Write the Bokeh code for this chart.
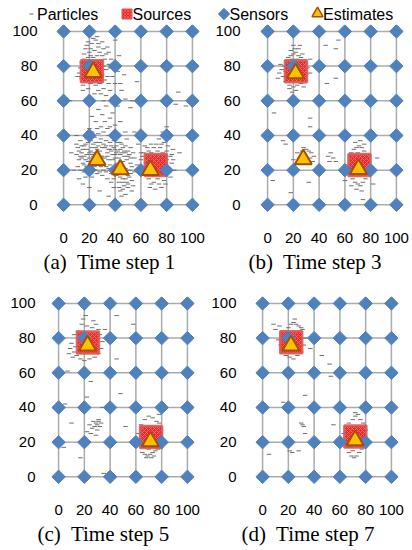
from bokeh.plotting import figure
from bokeh.layouts import column, row
from bokeh.models import Range1d, FixedTicker, Title
from bokeh.core.properties import value
from bokeh.embed import file_html
from bokeh.resources import INLINE
import math

grid_ticks = [0, 20, 40, 60, 80, 100]
captions = ["(a)\u00a0 Time step 1", "(b)\u00a0 Time step 3",
            "(c)\u00a0 Time step 5", "(d)\u00a0 Time step 7"]
legend_labels = ["Particles", "Sources", "Sensors", "Estimates"]

# Sources (true)
src_a = [(22, 77), (71.6, 23)]
src_b = [(22, 77), (71.3, 23)]
src_c = [(22.8, 77.5), (71.8, 22.9)]
src_d = [(22.2, 77.6), (72, 23.3)]

# Estimates
est_a = [(23, 76.5), (26, 25.8), (44, 20.4), (67.4, 20)]
est_b = [(21.7, 75.9), (27.7, 26.2), (70.5, 20.6)]
est_c = [(22.5, 75.7), (71.3, 20.4)]
est_d = [(22, 75.7), (71.8, 21)]

# Particles
part_a = [
    (18, 92), (22, 93), (25, 95), (27, 91), (24, 89), (20, 88), (28, 88), (30, 86), (26, 86), (23, 85),
    (19, 85), (16, 84), (29, 83), (32, 84), (14, 82), (31, 80), (33, 78), (30, 75), (32, 72), (28, 70),
    (25, 69), (21, 70), (17, 71), (14, 73), (12, 76), (13, 79), (27, 66), (31, 67), (35, 70), (38, 74),
    (36, 79), (40, 82), (43, 86), (35, 88), (45, 66), (48, 61), (38, 62), (33, 63), (24, 64), (15, 66),
    (26, 97), (30, 94), (21, 90), (17, 90), (34, 91), (37, 84), (42, 77), (29, 78), (20, 81), (23, 74),
    (19, 94), (23, 96), (27, 93), (31, 90), (33, 87), (16, 87), (21, 86), (25, 83), (35, 81), (34, 74),
    (11, 74), (15, 69), (19, 67), (29, 64), (36, 66), (40, 70),
    (27, 55), (30, 52), (33, 57), (36, 50), (25, 48), (40, 46), (38, 53), (29, 45), (34, 44), (44, 48),
    (22, 51), (31, 60), (42, 57), (48, 42), (20, 44),
    (14, 30), (16, 28), (18, 32), (20, 27), (22, 33), (24, 30), (28, 31), (30, 28), (32, 33), (34, 30),
    (12, 26), (15, 24), (18, 22), (21, 20), (24, 22), (29, 22), (31, 24), (35, 26), (17, 35), (21, 37),
    (25, 36), (29, 38), (33, 37), (37, 34), (11, 33), (13, 37), (19, 39), (27, 41), (35, 40), (38, 29),
    (40, 32), (42, 36), (10, 29), (26, 18), (22, 16), (30, 17), (16, 19), (23, 25), (27, 34), (19, 25),
    (15, 32), (13, 28), (17, 26), (20, 30), (23, 28), (26, 32), (31, 35), (36, 32), (33, 22), (28, 25),
    (12, 31), (14, 27), (16, 34), (18, 29), (19, 36), (21, 31), (22, 29), (23, 35), (25, 33), (26, 29),
    (28, 36), (29, 27), (30, 33), (32, 27), (33, 34), (34, 28), (35, 32), (36, 36), (37, 31), (38, 26),
    (39, 33), (40, 29), (41, 34), (42, 31), (43, 27), (44, 36), (45, 30), (46, 33), (47, 28), (48, 30),
    (49, 26), (50, 31), (51, 29), (52, 27), (53, 22), (51, 16), (49, 18), (47, 20), (46, 13), (44, 16),
    (42, 19), (40, 22), (39, 15), (37, 18), (35, 21), (43, 10), (45, 5), (50, 12), (52, 18), (54, 11),
    (48, 15), (11, 22), (13, 20), (16, 23), (19, 18), (22, 23), (25, 20), (28, 19), (31, 20), (17, 16),
    (14, 34), (10, 35), (24, 39), (31, 42), (38, 39), (22, 42), (26, 44), (18, 38), (36, 45), (32, 48),
    (40, 27), (44, 29), (47, 31), (50, 28), (52, 24), (48, 21), (50, 17), (46, 15), (43, 13), (47, 11),
    (50, 10), (53, 14), (55, 19), (41, 17), (38, 20), (36, 23), (45, 35), (49, 38), (52, 33), (39, 10),
    (44, 8), (48, 6), (53, 8), (42, 24), (46, 25), (55, 27), (57, 23), (34, 15), (37, 13), (33, 19),
    (44, 32), (48, 34), (51, 20), (45, 18), (49, 13), (41, 30), (39, 37), (43, 40), (54, 30), (46, 9),
    (8, 20), (12, 15), (20, 10), (28, 8), (35, 5), (15, 12), (10, 40), (6, 30), (58, 35), (55, 42), (60, 30),
    (62, 30), (65, 33), (68, 35), (72, 35), (75, 33), (78, 36), (80, 31), (83, 28), (84, 24), (82, 20),
    (83, 16), (78, 14), (74, 12), (70, 13), (66, 15), (63, 18), (62, 22), (65, 28), (68, 30), (77, 30),
    (80, 26), (76, 10), (71, 9), (67, 10), (79, 40), (74, 38), (85, 32), (86, 20), (60, 26), (64, 24),
    (66, 31), (70, 33), (73, 31), (76, 35), (81, 34), (84, 29), (85, 26), (80, 18), (79, 12), (73, 15),
    (68, 12), (64, 20), (61, 28), (63, 34), (82, 38), (77, 42),
    (40, 95), (44, 70), (47, 75), (87, 58), (52, 56), (80, 45), (90, 30), (5, 60), (95, 57), (60, 80),
    (57, 71), (89, 65), (53, 60),
]
part_b = [
    (16, 85), (18, 86), (20, 87), (22, 88), (24, 86), (26, 85), (19, 84), (23, 84), (27, 83), (15, 82),
    (13, 80), (11, 78), (9, 76), (12, 74), (8, 73), (14, 71), (17, 69), (20, 68), (23, 69), (26, 70),
    (28, 72), (30, 75), (31, 79), (29, 82), (21, 90), (25, 92), (17, 67), (22, 66), (10, 81), (33, 84),
    (18, 89), (24, 90), (27, 87), (20, 92), (14, 77), (28, 68), (19, 65),
    (53, 90), (55, 95), (46, 70), (53, 73), (33, 76), (38, 79), (5, 53), (33, 50), (33, 45), (12, 37),
    (14, 35), (4, 14), (18, 7), (32, 13), (20, 60), (45, 92),
    (28, 33), (30, 32), (32, 31), (34, 30), (29, 29), (33, 27), (35, 25), (31, 24), (27, 31), (25, 27),
    (23, 30), (36, 28), (20, 26),
    (47, 28), (49, 30), (51, 27), (53, 25), (48, 25),
    (67, 32), (69, 33), (71, 34), (73, 33), (75, 31), (65, 30), (77, 29), (64, 27), (78, 25), (63, 23),
    (79, 22), (64, 18), (66, 15), (68, 13), (70, 12), (72, 11), (74, 13), (76, 15), (78, 17), (65, 11),
    (69, 9), (73, 8), (80, 19), (62, 20), (70, 30), (85, 27), (74, 3), (60, 14), (82, 12),
    (68, 36), (72, 37), (75, 35),
]
part_c = [
    (21, 93), (45, 93), (58, 88), (18, 88), (22, 87), (26, 86), (29, 88), (31, 85), (15, 84), (12, 82),
    (10, 77), (9, 74), (12, 72), (14, 70), (11, 69), (17, 68), (20, 67), (24, 68), (28, 69), (31, 71),
    (33, 74), (34, 78), (32, 82), (27, 90), (19, 91), (36, 85), (8, 71), (13, 75),
    (48, 48), (22, 46), (5, 42), (10, 31), (52, 29), (4, 17), (17, 11), (35, 2), (45, 68), (7, 61),
    (34, 40), (25, 55),
    (27, 32), (29, 31), (30, 30), (31, 32), (32, 29), (28, 29), (30, 27), (26, 28), (33, 31), (25, 25),
    (22, 26), (29, 24), (31, 33), (24, 30),
    (65, 14), (67, 13), (69, 12), (71, 13), (73, 14), (75, 15), (77, 16), (66, 17), (70, 16), (68, 11),
    (72, 11), (74, 12), (67, 33), (70, 35), (73, 34), (76, 32), (78, 31), (64, 30), (79, 27), (62, 25),
    (80, 21), (78, 36), (63, 19),
]
part_d = [
    (8.5, 88), (13, 87), (22, 88), (24, 89), (26, 88), (28, 87), (30, 86), (31, 85), (20, 86), (18, 84),
    (15, 82), (12, 79), (14, 76), (16, 73), (18, 70), (21, 69), (24, 68), (27, 70), (30, 72), (32, 76),
    (33, 80), (10, 85), (25, 91),
    (37, 74), (46, 70), (52, 65), (53, 58), (33, 47), (16, 43), (31, 30), (30, 31), (32, 29), (33, 25),
    (55, 30), (5, 13), (21, 15), (23, 14), (28, 15), (40, 60),
    (70, 33), (72, 35), (74, 36), (76, 33), (78, 31), (67, 31), (65, 28), (63, 25), (80, 27), (64, 20),
    (67, 14), (69, 12), (71, 11), (73, 12), (75, 14), (77, 16), (70, 15), (68, 17), (72, 37), (79, 20),
]

SENSOR = dict(marker="square", angle=math.pi / 4, size=9.5, fill_color="#4F81BD", line_color="#4F81BD")
SOURCE = dict(marker="square", size=22, fill_color="#E82A2A", line_color="#D85A5A", line_width=2.5,
              line_alpha=0.9, hatch_pattern="diagonal_cross", hatch_color="#FF7070", hatch_scale=4,
              hatch_weight=0.8)
EST = dict(marker="triangle", size=17, fill_color="#FFC000", line_color="#A84E00", line_width=2)
PART = dict(marker="dash", size=4.5, line_color="#6E6E6E", line_width=1)


def panel(parts, srcs, ests, cap, left, right, bottom, cap_offset, ystand):
    p = figure(frame_width=143, frame_height=189, min_border_left=left, min_border_right=right,
               min_border_top=2, min_border_bottom=bottom, output_backend="svg",
               toolbar_location=None, x_range=Range1d(-5.5, 105.5), y_range=Range1d(-5, 104))
    p.outline_line_color = None
    p.xgrid.visible = False
    p.ygrid.visible = False
    for ax in (p.xaxis[0], p.yaxis[0]):
        ax.ticker = FixedTicker(ticks=grid_ticks)
        ax.axis_line_color = None
        ax.major_tick_line_color = None
        ax.minor_tick_line_color = None
        ax.major_label_text_font = "Liberation Sans"
        ax.major_label_text_font_size = "15px"
        ax.major_label_text_color = "#000000"
    p.xaxis.major_label_standoff = 13
    p.yaxis.major_label_standoff = ystand
    lo, hi = min(grid_ticks), max(grid_ticks)
    n = len(grid_ticks)
    # sensor grid links
    p.segment(x0=grid_ticks, y0=[lo] * n, x1=grid_ticks, y1=[hi] * n, line_color="#ABABAB", line_width=1.5)
    p.segment(x0=[lo] * n, y0=grid_ticks, x1=[hi] * n, y1=grid_ticks, line_color="#ABABAB", line_width=1.5)
    p.scatter(x=[a for a, b in parts], y=[b for a, b in parts], **PART)
    p.scatter(x=[a for a, b in srcs], y=[b for a, b in srcs], **SOURCE)
    sx = [gx for gy in grid_ticks for gx in grid_ticks]
    sy = [gy for gy in grid_ticks for gx in grid_ticks]
    p.scatter(x=sx, y=sy, **SENSOR)
    p.scatter(x=[a for a, b in ests], y=[b for a, b in ests], **EST)
    p.add_layout(Title(text=cap, align="left", offset=cap_offset, text_font="Liberation Serif",
                       text_font_size="21px", text_font_style="normal", text_color="#000000",
                       standoff=4), "below")
    return p


pa = panel(part_a, src_a, est_a, captions[0], 56, 7, 81, -13, 13)
pb = panel(part_b, src_b, est_b, captions[1], 54, 9, 81, -12, 14)
pc = panel(part_c, src_c, est_c, captions[2], 51, 12, 65, -14, 10)
pd = panel(part_d, src_d, est_d, captions[3], 49, 14, 65, -14, 13)

# Legend strip (pixel-like coordinates for layout of the key)
lg = figure(width=412, height=22, output_backend="svg", toolbar_location=None,
            x_range=Range1d(0, 412), y_range=Range1d(0, 22), min_border=0)
lg.axis.visible = False
lg.grid.visible = False
lg.outline_line_color = None
key_x = [31, 126.5, 223.5, 317]
key_y = 8.5
lg.scatter(x=[key_x[0]], y=[key_y], marker="dash", size=4, line_color="#6E6E6E", line_width=1)
lg.scatter(x=[key_x[1]], y=[key_y], marker="square", size=10, fill_color="#E82A2A", line_color="#D85A5A",
           line_width=1, hatch_pattern="diagonal_cross", hatch_color="#FF7070", hatch_scale=3,
           hatch_weight=0.6)
lg.scatter(x=[key_x[2]], y=[key_y], marker="square", angle=math.pi / 4, size=8,
           fill_color="#4F81BD", line_color="#4F81BD")
lg.scatter(x=[key_x[3]], y=[key_y + 0.5], marker="triangle", size=11, fill_color="#FFC000",
           line_color="#A84E00", line_width=1.5)
lg.text(x=[k + 5.5 for k in key_x], y=[key_y] * 4, text=legend_labels,
        text_font=value("Liberation Sans"), text_font_size="16px", text_baseline="middle",
        text_align="left", text_color="#000000")

layout = column(lg, row(pa, pb), row(pc, pd))
open("out.html", "w").write(file_html(layout, INLINE))
